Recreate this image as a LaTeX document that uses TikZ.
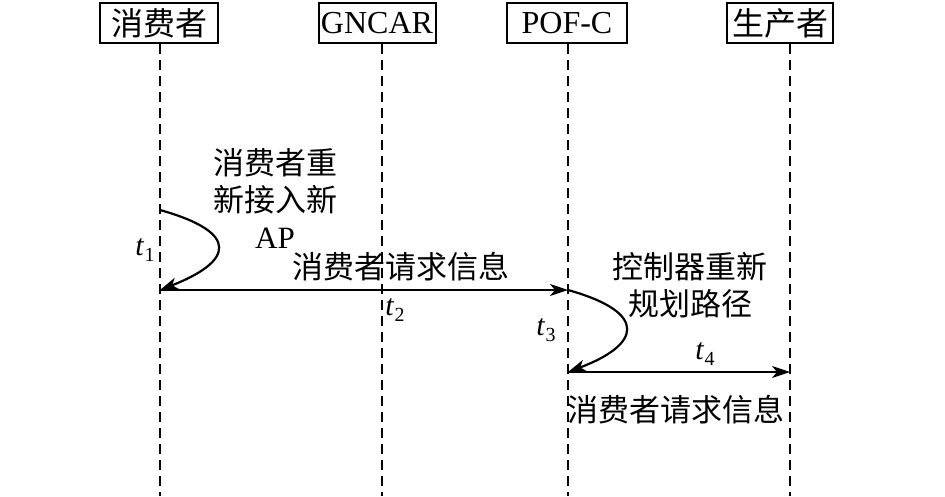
\documentclass[tikz,border=0pt]{standalone}
\usepackage{fontspec}
\setmainfont{Liberation Serif}
\newfontfamily\cjk{Noto Sans CJK SC}
\usetikzlibrary{arrows.meta}
\tikzset{
  actor/.style={draw,line width=2pt,minimum height=40pt,inner sep=2pt,font=\fontsize{32}{32}\selectfont,anchor=center},
  life/.style={line width=1.5pt,dash pattern=on 10pt off 6pt},
  msg/.style={line width=2.2pt,-{Stealth[length=18pt,width=12pt,inset=5pt]}},
  lbl/.style={font=\fontsize{31}{37}\selectfont,align=center,inner sep=0pt},
  tl/.style={font=\fontsize{30}{30}\selectfont,inner sep=0pt}
}
\newcommand{\tsub}[1]{\textit{t}\kern0.5pt\raisebox{-0.4ex}{\fontsize{20}{20}\selectfont #1}}
\begin{document}
\begin{tikzpicture}[x=1pt,y=-1pt]
\useasboundingbox (0,0) rectangle (945,496);
\node[actor,minimum width=118pt] (c) at (159,23) {\cjk 消费者};
\node[actor,minimum width=117pt] (g) at (377,23) {GNCAR};
\node[actor,minimum width=120pt] (p) at (567,23) {POF-C};
\node[actor,minimum width=106pt] (s) at (780,23) {\cjk 生产者};
\coordinate (cb) at (160,496);
\coordinate (gb) at (382,496);
\coordinate (pb) at (568,496);
\coordinate (sb) at (790,496);
\draw[life] (c.south -| cb) -- (cb);
\draw[life] (g.south -| gb) -- (gb);
\draw[life] (p.south -| pb) -- (pb);
\draw[life] (s.south -| sb) -- (sb);
\coordinate (c1) at (160,210);
\coordinate (c2) at (160,290);
\coordinate (p1) at (568,290);
\coordinate (p2) at (568,372);
\coordinate (s2) at (790,372);
\draw[msg] (c1) .. controls (242,233) and (232,262) .. (c2);
\draw[msg] (c2) -- (p1);
\draw[msg] (p1) .. controls (650,313) and (640,345) .. (p2);
\draw[msg] (p2) -- (s2);
\node[lbl] (a) at (275,198) {\cjk 消费者重\\\cjk 新接入新\\AP};
\node[lbl] (m1) at (401,267) {\cjk 消费者请求信息};
\node[lbl] (r) at (690,285) {\cjk 控制器重新\\\cjk 规划路径};
\node[lbl] (m2) at (676,410) {\cjk 消费者请求信息};
\node[tl] (t1) at (145,250) {\tsub{1}};
\node[tl] (t2) at (395,310) {\tsub{2}};
\node[tl] (t3) at (546,330) {\tsub{3}};
\node[tl] (t4) at (705,354) {\tsub{4}};
\end{tikzpicture}
\end{document}
